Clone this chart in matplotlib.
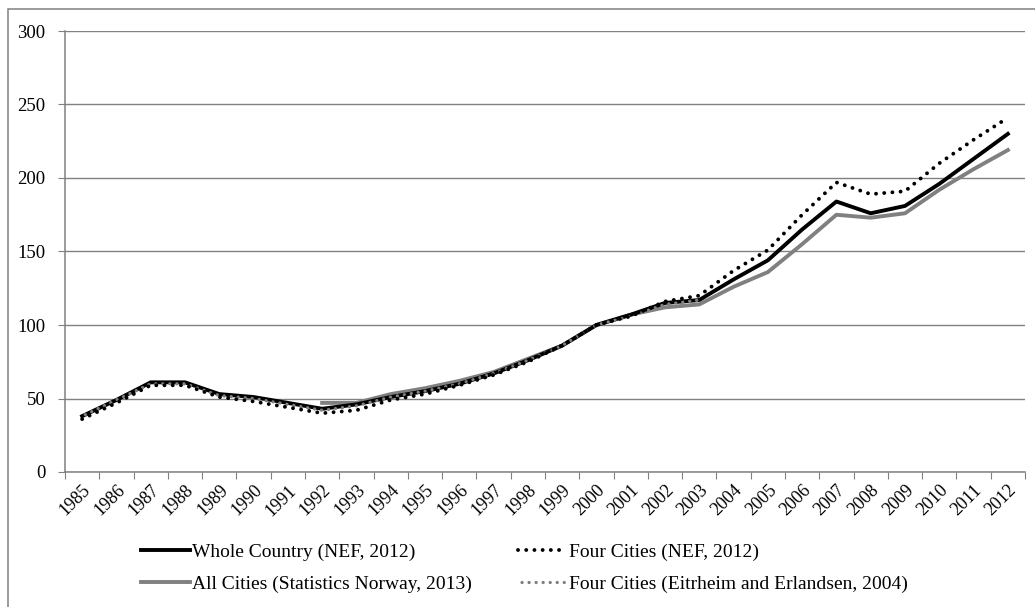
import numpy as np
import matplotlib.pyplot as plt

plt.rcParams["font.family"] = ["Liberation Serif", "DejaVu Serif"]

# --- Datos (indice, 2000 = 100) ---
anios = list(range(1985, 2013))

pais_entero = [38, 49, 61, 61, 53, 51, 47, 43, 46, 51, 55, 60, 67, 76, 86,
               100, 107, 115, 117, 131, 144, 165, 184, 176, 181, 196, 213, 230]
cuatro_nef = [36, 47, 59, 59, 51, 48, 44, 40, 42, 49, 53, 59, 66, 75, 86,
              100, 106, 116, 120, 137, 151, 175, 197, 189, 191, 210, 226, 241]
anios_ssb = list(range(1992, 2013))
todas_ssb = [47, 47, 53, 57, 62, 68, 77, 86, 100, 107, 112, 114, 126, 136,
             155, 175, 173, 176, 192, 206, 219]
anios_ee = list(range(1985, 2004))
cuatro_ee = [38, 49, 60, 60, 52, 50, 46, 42, 45, 51, 55, 60, 67, 76, 86,
             100, 106, 114, 117]

etiquetas = ["Whole Country (NEF, 2012)", "Four Cities (NEF, 2012)",
             "All Cities (Statistics Norway, 2013)",
             "Four Cities (Eitrheim and Erlandsen, 2004)"]

GRIS = "#808080"
W, H = 1035, 607


def pos(lista):
    """Posicion categorica de cada anio."""
    return [a - anios[0] for a in lista]


fig = plt.figure(figsize=(W / 100, H / 100), dpi=100)
ax = fig.add_axes([65 / W, 1 - 472 / H, (1025 - 65) / W, (472 - 31) / H])

# marco exterior (recortado a la derecha y abajo, como en el original)
fig.patches.append(plt.Rectangle((8 / W, -0.1), 1.2, 1 - 9 / H + 0.1,
                                 transform=fig.transFigure, fill=False,
                                 edgecolor=GRIS, lw=1.1))

l1, = ax.plot(pos(anios), pais_entero, color="black", lw=2.8,
              label=etiquetas[0], zorder=3)
l3, = ax.plot(pos(anios_ssb), todas_ssb, color=GRIS, lw=2.8,
              label=etiquetas[2], zorder=2)
l4, = ax.plot(pos(anios_ee), cuatro_ee, color=GRIS, lw=2.4, ls=(1.05, (0.01, 2.1)),
              dash_capstyle="round", label=etiquetas[3], zorder=4)
l2, = ax.plot(pos(anios), cuatro_nef, color="black", lw=2.8, ls=(0, (0.01, 2.1)),
              dash_capstyle="round", label=etiquetas[1], zorder=5)

ax.set_xlim(-0.5, len(anios) - 0.5)
ax.set_ylim(0, 300)
ax.set_yticks(range(0, 301, 50))
ax.grid(axis="y", color=GRIS, lw=1.0)
ax.set_axisbelow(True)

ax.set_xticks(np.arange(len(anios) + 1) - 0.5)
ax.set_xticklabels([])
ax.set_xticks(np.arange(len(anios)), minor=True)
ax.set_xticklabels([str(a) for a in anios], minor=True, rotation=45,
                   ha="right", va="top", rotation_mode="anchor")
ax.tick_params(axis="x", which="major", length=5, color=GRIS, direction="out")
ax.tick_params(axis="x", which="minor", length=0, labelsize=13, pad=7)
ax.tick_params(axis="y", length=5, color=GRIS, labelsize=13.5, pad=9)

for lado in ["top", "right"]:
    ax.spines[lado].set_visible(False)
for lado in ["left", "bottom"]:
    ax.spines[lado].set_color(GRIS)
    ax.spines[lado].set_linewidth(1.1)

# ncol=2 rellena por columnas: se pasan en el orden de columna
fig.legend(handles=[l1, l3, l2, l4],
           labels=[etiquetas[0], etiquetas[2], etiquetas[1], etiquetas[3]],
           ncol=2, frameon=False, fontsize=14, handlelength=2.5,
           handletextpad=0.1, columnspacing=2.4, labelspacing=0.75,
           borderpad=0, borderaxespad=0,
           loc="upper left", bbox_to_anchor=(141 / W, 1 - 543 / H))

fig.savefig("out.png", dpi=100)
